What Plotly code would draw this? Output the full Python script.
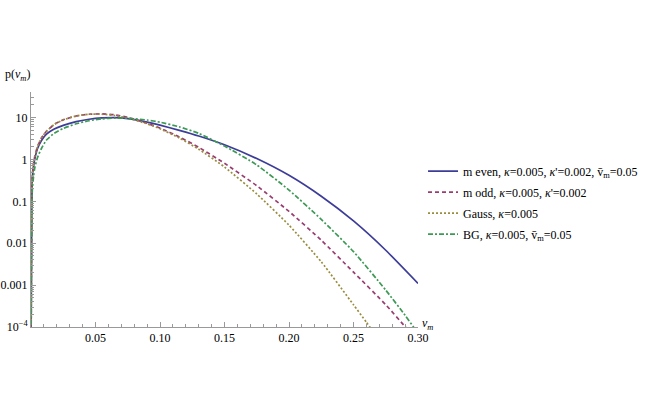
import plotly.graph_objects as go

# ---------------- data ----------------
x_even = [0, 0.001, 0.002, 0.003, 0.005, 0.008, 0.012, 0.018, 0.025, 0.035, 0.045, 0.055,
          0.065, 0.075, 0.09, 0.10, 0.115, 0.13, 0.15, 0.175, 0.20, 0.225, 0.25, 0.275, 0.30]
p_even = [1e-5, 0.35, 0.7, 1.05, 1.8, 2.8, 4.0, 5.3, 6.5, 8.0, 9.1, 9.8,
          10.0, 9.45, 7.8, 6.6, 4.95, 3.63, 2.24, 1.05, 0.417, 0.132, 0.034, 0.0068, 0.0011]

x_odd = [0, 0.001, 0.002, 0.003, 0.005, 0.008, 0.012, 0.018, 0.025, 0.035, 0.045, 0.055,
         0.065, 0.075, 0.09, 0.10, 0.115, 0.13, 0.15, 0.175, 0.20, 0.225, 0.25, 0.275, 0.29, 0.30]
p_odd = [1e-5, 0.4, 0.8, 1.2, 2.0, 3.2, 4.7, 6.8, 8.8, 10.9, 12.0, 12.2,
         11.6, 10.1, 7.3, 5.6, 3.45, 1.95, 0.81, 0.236, 0.0575, 0.0118, 0.00204, 3.4e-4, 1.02e-4, 4.5e-5]

x_gauss = [0, 0.001, 0.002, 0.003, 0.005, 0.008, 0.012, 0.018, 0.025, 0.035, 0.045, 0.055,
           0.065, 0.075, 0.09, 0.10, 0.115, 0.13, 0.15, 0.175, 0.20, 0.225, 0.25, 0.26, 0.27, 0.28]
p_gauss = [1e-5, 0.4, 0.8, 1.2, 2.0, 3.2, 4.7, 6.8, 8.8, 10.9, 12.0, 12.0,
           11.2, 9.7, 7.1, 5.4, 3.25, 1.76, 0.66, 0.15, 0.027, 0.0036, 3.4e-4, 1.3e-4, 4.8e-5, 1.6e-5]

x_bg = [0, 0.001, 0.002, 0.003, 0.005, 0.008, 0.012, 0.018, 0.025, 0.035, 0.045, 0.055,
        0.065, 0.075, 0.09, 0.10, 0.115, 0.13, 0.15, 0.175, 0.20, 0.225, 0.25, 0.275, 0.29, 0.297, 0.30]
p_bg = [1e-5, 0.18, 0.4, 0.65, 1.1, 1.8, 2.9, 4.2, 5.5, 7.1, 8.4, 9.3,
        9.7, 9.6, 8.73, 7.76, 6.0, 4.2, 2.09, 0.74, 0.186, 0.037, 0.0063, 7.6e-4, 1.9e-4, 9.5e-5, 7e-5]

names = [
    "m even, <i>κ</i>=0.005, <i>κ</i>'=0.002, v̄<sub>m</sub>=0.05",
    "m odd, <i>κ</i>=0.005, <i>κ</i>'=0.002",
    "Gauss, <i>κ</i>=0.005",
    "BG, <i>κ</i>=0.005, v̄<sub>m</sub>=0.05",
]

x_tickvals = [0.05, 0.10, 0.15, 0.20, 0.25, 0.30]
x_ticktext = ["0.05", "0.10", "0.15", "0.20", "0.25", "0.30"]
y_tickvals = [1e-4, 1e-3, 1e-2, 1e-1, 1, 10]
y_ticktext = ["10<sup>−4</sup>", "0.001", "0.01", "0.1", "1", "10"]

# ---------------- styling ----------------
colors = ["#3D3D99", "#993D71", "#998C3D", "#3D9956"]
dashes = ["solid", "4px,3px", "2px,2px", "5px,2px,2px,2px"]
FONT = "Liberation Serif, Times New Roman, serif"

fig = go.Figure()
for i, (xs, ys, nm, c, d) in enumerate(zip([x_even, x_odd, x_gauss, x_bg],
                                           [p_even, p_odd, p_gauss, p_bg],
                                           names, colors, dashes)):
    fig.add_trace(go.Scatter(x=xs, y=ys, mode="lines", name=nm, legendgroup=f"g{i}",
                             line=dict(color=c, width=1.7, dash=d, shape="spline", smoothing=0.5)))

x_minor = [i / 100 for i in range(1, 31)]
y_minor = [m * 10 ** e for e in range(-4, 2) for m in range(2, 10)]

fig.update_layout(
    width=664, height=415,
    margin=dict(l=31, r=246, t=92, b=88, autoexpand=False),
    paper_bgcolor="white", plot_bgcolor="white",
    font=dict(family=FONT, size=12, color="black"),
    showlegend=True,
    legend=dict(x=1.013, y=0.725, xanchor="left", yanchor="top",
                font=dict(family=FONT, size=12, color="black"),
                bgcolor="rgba(0,0,0,0)", tracegroupgap=2, traceorder="grouped"),
    xaxis=dict(range=[0, 0.30], showgrid=False, zeroline=False, automargin=False,
               showline=True, linecolor="#999999", linewidth=1,
               tickmode="array", tickvals=x_tickvals, ticktext=x_ticktext,
               ticks="inside", ticklen=5, tickcolor="#999999",
               minor=dict(tickmode="array", tickvals=x_minor, ticks="inside",
                          ticklen=3, tickcolor="#999999"),
               tickfont=dict(family=FONT, size=12, color="black")),
    yaxis=dict(type="log", range=[-4, 1.61], showgrid=False, zeroline=False, automargin=False,
               showline=True, linecolor="#999999", linewidth=1,
               tickmode="array", tickvals=y_tickvals, ticktext=y_ticktext,
               ticks="inside", ticklen=5, tickcolor="#999999",
               minor=dict(tickmode="array", tickvals=y_minor, ticks="inside",
                          ticklen=3, tickcolor="#999999"),
               tickfont=dict(family=FONT, size=12, color="black")),
    annotations=[
        dict(text="p(<i>v<sub>m</sub></i>)", xref="paper", yref="paper",
             x=-0.072, y=1.072, xanchor="left", yanchor="middle", showarrow=False,
             font=dict(family=FONT, size=12, color="black")),
        dict(text="<i>v<sub>m</sub></i>", xref="paper", yref="paper",
             x=1.005, y=0.012, xanchor="left", yanchor="middle", showarrow=False,
             font=dict(family=FONT, size=12, color="black")),
    ],
)

fig.write_html("out.html", config={"displayModeBar": False},
               post_script="document.body.style.margin='0';")
